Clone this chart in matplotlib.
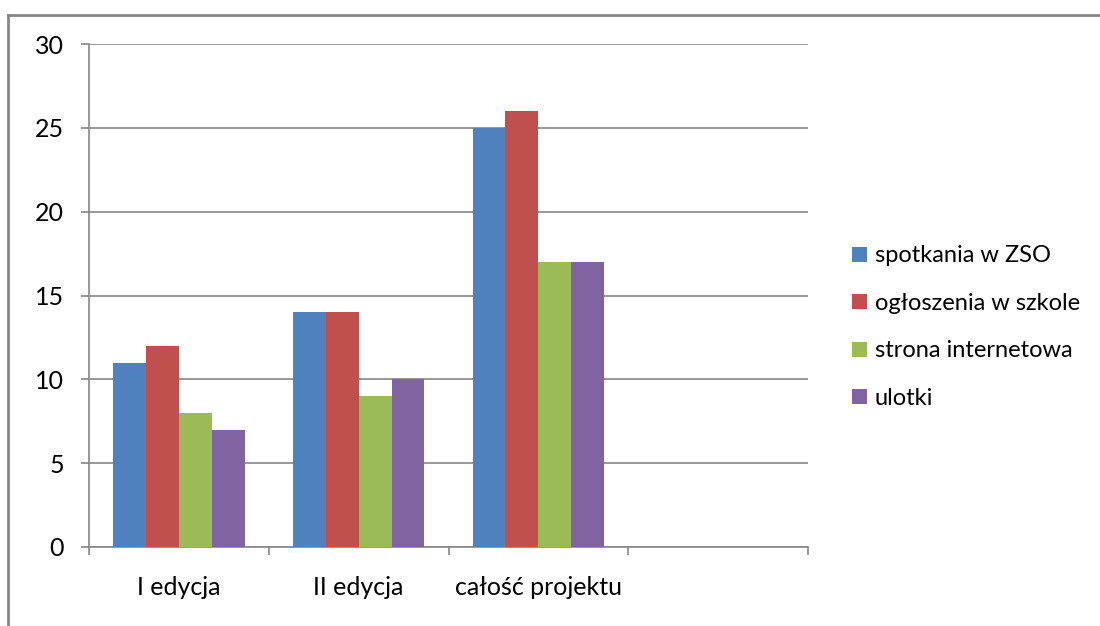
import numpy as np
import matplotlib.pyplot as plt
from matplotlib.lines import Line2D

plt.rcParams['font.family'] = ['Lato', 'DejaVu Sans']

# Dane
kategorie = ['I edycja', 'II edycja', 'całość projektu', '']
serie = ['spotkania w ZSO', 'ogłoszenia w szkole', 'strona internetowa', 'ulotki']
spotkania = [11, 14, 25, 0]
ogloszenia = [12, 14, 26, 0]
strona = [8, 9, 17, 0]
ulotki = [7, 10, 17, 0]
kolory = ['#4F81BD', '#C0504D', '#9BBB59', '#8064A2']

wartosci = [spotkania, ogloszenia, strona, ulotki]

fig = plt.figure(figsize=(11, 6.26), dpi=100)
ax = fig.add_axes([89 / 1100, 1 - 547 / 626, (808 - 89) / 1100, (547 - 44) / 626])

x = np.arange(len(kategorie))
szer = 0.183
for i, (nazwa, vals, kol) in enumerate(zip(serie, wartosci, kolory)):
    ax.bar(x + (i - 1.5) * szer, vals, width=szer, color=kol, label=nazwa,
           edgecolor='none', zorder=3)

ax.set_xlim(-0.5, len(kategorie) - 0.5)
ax.set_ylim(0, 30)
ax.set_yticks(np.arange(0, 31, 5))
ax.yaxis.grid(True, color='#868686', linewidth=1.2, zorder=0)
ax.set_axisbelow(True)

fs = 18
ax.set_xticks(x[:3])
ax.set_xticklabels(kategorie[:3])
ax.set_xticks(np.arange(-0.5, len(kategorie)), minor=True)
ax.tick_params(axis='x', which='major', length=0, pad=21, labelsize=fs)
ax.tick_params(axis='x', which='minor', length=6, width=1.2, color='#868686', direction='out')
ax.tick_params(axis='y', length=6, width=1.2, color='#868686', labelsize=fs, pad=12)

for s in ['top', 'right']:
    ax.spines[s].set_visible(False)
for s in ['left', 'bottom']:
    ax.spines[s].set_color('#868686')
    ax.spines[s].set_linewidth(1.2)

leg = fig.legend(loc='upper left', bbox_to_anchor=(843 / 1100, 1 - 236 / 626),
                 frameon=False, fontsize=17, handlelength=0.6, handleheight=0.6,
                 handletextpad=0.35, labelspacing=1.12, borderaxespad=0)

# ramka wykresu
fig.add_artist(Line2D([8 / 1100, 1.0], [1 - 15 / 626, 1 - 15 / 626],
                      transform=fig.transFigure, color='#868686', linewidth=2))
fig.add_artist(Line2D([8 / 1100, 8 / 1100], [0, 1 - 15 / 626],
                      transform=fig.transFigure, color='#868686', linewidth=2))

fig.savefig('out.png', dpi=100, facecolor='white')
